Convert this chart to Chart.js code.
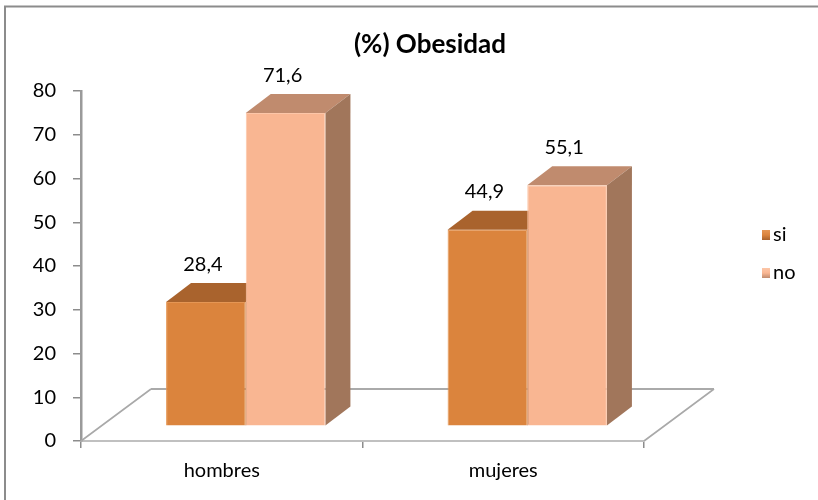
<!DOCTYPE html>
<html>
<head>
<meta charset="utf-8">
<script src="https://cdn.jsdelivr.net/npm/chart.js@4.4.1/dist/chart.umd.min.js"></script>
<style>
  html, body { margin: 0; padding: 0; background: #ffffff; }
  #wrap { width: 818px; height: 500px; position: relative; }
</style>
</head>
<body>
<div id="wrap"><canvas id="chart" width="818" height="500"></canvas></div>
<script>
// ---- data ----
const categories = ['hombres', 'mujeres'];
const seriesNames = ['si', 'no'];
const siValues = [28.4, 44.9];
const noValues = [71.6, 55.1];
const yTickValues = [0, 10, 20, 30, 40, 50, 60, 70, 80];
const titleText = '(%) Obesidad';

// ---- look ----
const FONT = 'Lato, "Open Sans", sans-serif';
const shades = {
  si: { front: '#DB843D', edge: '#E59654', top: '#A9632D', side: '#98582A' },
  no: { front: '#F9B692', edge: '#FCC6A8', top: '#C08B6E', side: '#A1765B' }
};
// the bars stand a little behind the front edge of the floor
const BAR_SHIFT = { x: 24, y: -14.7 };
// depth of each box
const BAR_DEPTH = { x: 25, y: -19 };
// depth of the floor
const FLOOR_DEPTH = { x: 70, y: -52 };

const fmt = v => v.toFixed(1).replace('.', ',');

const boxes3d = {
  id: 'boxes3d',
  beforeDraw(chart) {
    // outer frame of the chart
    const ctx = chart.ctx;
    ctx.save();
    ctx.strokeStyle = '#8c8c8c';
    ctx.lineWidth = 2;
    ctx.beginPath();
    ctx.moveTo(5, 500);
    ctx.lineTo(5, 6.5);
    ctx.lineTo(818, 6.5);
    ctx.stroke();
    ctx.restore();
  },
  beforeDatasetsDraw(chart) {
    const { ctx, chartArea: a } = chart;
    // floor: back edge and the two receding sides
    ctx.save();
    ctx.lineWidth = 1.6;
    ctx.strokeStyle = '#8e8e8e';
    ctx.beginPath();
    ctx.moveTo(a.left + FLOOR_DEPTH.x, a.bottom + FLOOR_DEPTH.y);
    ctx.lineTo(a.right + FLOOR_DEPTH.x, a.bottom + FLOOR_DEPTH.y);
    ctx.stroke();
    ctx.strokeStyle = '#a9a9a9';
    ctx.beginPath();
    ctx.moveTo(a.left, a.bottom);
    ctx.lineTo(a.left + FLOOR_DEPTH.x, a.bottom + FLOOR_DEPTH.y);
    ctx.moveTo(a.right, a.bottom);
    ctx.lineTo(a.right + FLOOR_DEPTH.x, a.bottom + FLOOR_DEPTH.y);
    ctx.stroke();
    ctx.restore();

    // top and side faces of every box; the front faces painted afterwards hide what lies behind them
    ctx.save();
    ctx.translate(BAR_SHIFT.x, BAR_SHIFT.y);
    chart.data.datasets.forEach((ds, i) => {
      const sh = shades[seriesNames[i]];
      chart.getDatasetMeta(i).data.forEach(bar => {
        const { x, y, base, width } = bar.getProps(['x', 'y', 'base', 'width'], true);
        const l = x - width / 2, r = x + width / 2;
        ctx.fillStyle = sh.top;
        ctx.beginPath();
        ctx.moveTo(l, y);
        ctx.lineTo(l + BAR_DEPTH.x, y + BAR_DEPTH.y);
        ctx.lineTo(r + BAR_DEPTH.x, y + BAR_DEPTH.y);
        ctx.lineTo(r, y);
        ctx.closePath();
        ctx.fill();
        ctx.fillStyle = sh.side;
        ctx.beginPath();
        ctx.moveTo(r, y);
        ctx.lineTo(r + BAR_DEPTH.x, y + BAR_DEPTH.y);
        ctx.lineTo(r + BAR_DEPTH.x, base + BAR_DEPTH.y);
        ctx.lineTo(r, base);
        ctx.closePath();
        ctx.fill();
      });
    });
    ctx.restore();
  },
  beforeDatasetDraw(chart) {
    chart.ctx.save();
    chart.ctx.translate(BAR_SHIFT.x, BAR_SHIFT.y);
  },
  afterDatasetDraw(chart) {
    chart.ctx.restore();
  },
  afterDatasetsDraw(chart) {
    const ctx = chart.ctx;
    ctx.save();
    // value labels above each box
    ctx.font = '20px ' + FONT;
    ctx.fillStyle = '#000';
    ctx.textAlign = 'center';
    ctx.textBaseline = 'middle';
    chart.data.datasets.forEach((ds, i) => {
      chart.getDatasetMeta(i).data.forEach((bar, j) => {
        ctx.fillText(fmt(ds.data[j]), bar.x + BAR_SHIFT.x - 3, bar.y + BAR_SHIFT.y - 38);
      });
    });
    // title
    ctx.font = 'bold 26px ' + FONT;
    ctx.fillText(titleText, 430, 45);
    // legend
    ctx.font = '20px ' + FONT;
    ctx.textAlign = 'left';
    chart.data.datasets.forEach((ds, i) => {
      const sh = shades[seriesNames[i]];
      const cy = 235 + i * 38;
      const g = ctx.createLinearGradient(0, cy - 5, 0, cy + 5);
      g.addColorStop(0, sh.edge);
      g.addColorStop(0.5, sh.front);
      g.addColorStop(1, sh.top);
      ctx.fillStyle = g;
      ctx.fillRect(762, cy - 5, 8, 10);
      ctx.fillStyle = '#000';
      ctx.fillText(ds.label, 773, cy);
    });
    ctx.restore();
  }
};

new Chart(document.getElementById('chart'), {
  type: 'bar',
  data: {
    labels: categories,
    datasets: [
      { label: seriesNames[0], data: siValues, backgroundColor: shades.si.front,
        borderColor: shades.si.edge, borderWidth: 1, clip: false },
      { label: seriesNames[1], data: noValues, backgroundColor: shades.no.front,
        borderColor: shades.no.edge, borderWidth: 1, clip: false }
    ]
  },
  options: {
    responsive: false,
    animation: false,
    devicePixelRatio: 1,
    layout: { padding: { top: 91, right: 174, bottom: 19, left: 0 } },
    datasets: { bar: { categoryPercentage: 0.566, barPercentage: 1 } },
    plugins: {
      legend: { display: false },
      title: { display: false },
      tooltip: { enabled: false }
    },
    scales: {
      x: {
        afterFit: s => { s.height = 40; },
        grid: { display: true, drawOnChartArea: false, drawTicks: true, tickLength: 7,
                color: '#8c8c8c', lineWidth: 1.5, offset: true },
        border: { display: true, color: '#c0c0c0', width: 2 },
        ticks: { color: '#000', font: { family: FONT, size: 20 }, padding: 11 }
      },
      y: {
        min: 0, max: 80,
        afterFit: s => { s.width = 81; },
        afterBuildTicks: s => { s.ticks = yTickValues.map(v => ({ value: v })); },
        grid: { display: true, drawOnChartArea: false, drawTicks: true, tickLength: 8,
                color: '#8c8c8c', lineWidth: 1.5 },
        border: { display: true, color: '#9a9a9a', width: 2.5 },
        ticks: { color: '#000', font: { family: FONT, size: 20 }, padding: 17 }
      }
    }
  },
  plugins: [boxes3d]
});
</script>
</body>
</html>
